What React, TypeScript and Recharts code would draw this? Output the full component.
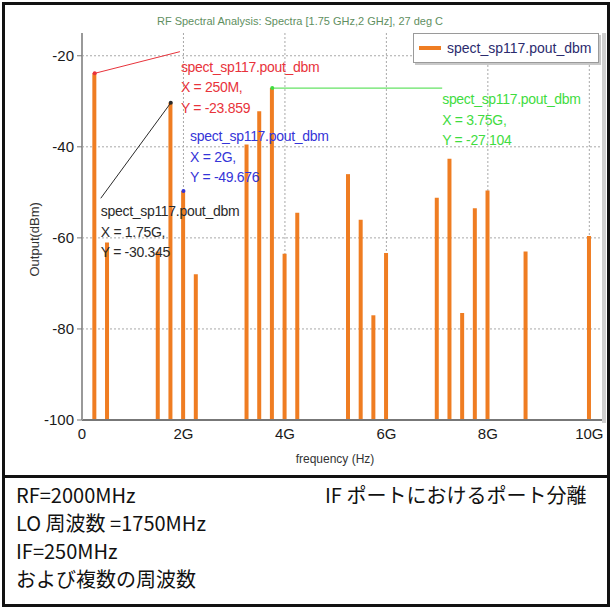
import {
  ComposedChart,
  Bar,
  XAxis,
  YAxis,
  CartesianGrid,
  ReferenceLine,
  ReferenceDot,
  Label,
} from "recharts";

// spectrum lines (GHz / dBm)
const freqGHz = [0.25, 0.5, 1.5, 1.75, 2, 2.25, 3.25, 3.5, 3.75, 4, 4.25, 5.25, 5.5, 5.75, 6, 7, 7.25, 7.5, 7.75, 8, 8.75, 10];
const poutDbm = [-23.859, -61, -63, -30.345, -49.676, -68, -39.5, -32.2, -27.104, -63.5, -54.5, -46, -56, -77, -63.3, -51.2, -42.6, -76.5, -53.5, -49.6, -63, -59.6];
const xTicks = [0, 2, 4, 6, 8, 10];
const yTicks = [-100, -80, -60, -40, -20];
const FLOOR = -100;

const SERIES = "spect_sp117.pout_dbm";
const ORANGE = "#ef7d22";
const FONT = "'Liberation Sans', Arial, sans-serif";
const JP = "'Noto Sans CJK JP', 'Noto Sans', sans-serif";

const rows = freqGHz.map((f, i) => ({ f, span: [FLOOR, poutDbm[i]] }));

// marker callouts: point index, colour, leader end and text anchor (data coords)
const markers = [
  { i: 0, xs: "250M", color: "#e8333b", end: [1.93, -19.1], text: [1.95, -23.5] },
  { i: 8, xs: "3.75G", color: "#3fdc3f", end: [7.1, -27.104], text: [7.1, -30.7] },
  { i: 4, xs: "2G", color: "#3535d8", end: null, text: [2.13, -38.8] },
  { i: 3, xs: "1.75G", color: "#2a2a2a", end: [0.37, -51.3], text: [0.37, -55.2] },
];

function Callout({ viewBox, lines, color }: any) {
  const { x, y } = viewBox;
  return (
    <text x={x} y={y} fill={color} fontSize={14} fontFamily={FONT} letterSpacing={-0.3}>
      {lines.map((t: string, k: number) => (
        <tspan key={k} x={x} dy={k === 0 ? 0 : 20.5}>
          {t}
        </tspan>
      ))}
    </text>
  );
}

function SpectrumChart() {
  return (
    <ComposedChart width={613} height={475} data={rows} margin={{ top: 33, right: 11, bottom: 0, left: 0 }}>
      <CartesianGrid stroke="#a8a8a8" strokeDasharray="2 2" horizontalValues={yTicks} verticalValues={xTicks} />
      <XAxis
        dataKey="f"
        type="number"
        domain={[0, 10.25]}
        ticks={xTicks}
        allowDataOverflow
        height={55}
        tickFormatter={(v) => (v === 0 ? "0" : `${v}G`)}
        tick={{ fill: "#1a1a1a", fontSize: 15, fontFamily: FONT }}
        tickSize={0}
        tickMargin={8}
        axisLine={{ stroke: "#777", strokeWidth: 2 }}
      >
        <Label value="frequency (Hz)" position="insideBottom" offset={12} dx={-7} fill="#333" fontSize={12} fontFamily={FONT} />
      </XAxis>
      <YAxis
        type="number"
        domain={[FLOOR, -15]}
        ticks={yTicks}
        allowDataOverflow
        width={82}
        tick={{ fill: "#1a1a1a", fontSize: 15, fontFamily: FONT }}
        tickSize={5}
        tickMargin={3}
        tickLine={{ stroke: "#777" }}
        axisLine={{ stroke: "#999", strokeWidth: 2 }}
      >
        <Label value="Output(dBm)" angle={-90} position="insideLeft" offset={34} dy={50} fill="#333" fontSize={13} fontFamily={FONT} />
      </YAxis>
      <Bar dataKey="span" fill={ORANGE} barSize={4} isAnimationActive={false} name={SERIES} />
      {markers.map((m) =>
        m.end ? (
          <ReferenceLine
            key={`l${m.i}`}
            segment={[
              { x: freqGHz[m.i], y: poutDbm[m.i] },
              { x: m.end[0], y: m.end[1] },
            ]}
            stroke={m.color}
            strokeWidth={1}
            ifOverflow="visible"
          />
        ) : null
      )}
      {markers.map((m) => (
        <ReferenceDot key={`d${m.i}`} x={freqGHz[m.i]} y={poutDbm[m.i]} r={2} fill={m.color} stroke="none" ifOverflow="visible" />
      ))}
      {markers.map((m) => (
        <ReferenceDot
          key={`t${m.i}`}
          x={m.text[0]}
          y={m.text[1]}
          r={0}
          fill="none"
          stroke="none"
          ifOverflow="visible"
          label={(p: any) => (
            <Callout viewBox={p.viewBox} color={m.color} lines={[SERIES, `X = ${m.xs},`, `Y = ${poutDbm[m.i]}`]} />
          )}
        />
      ))}
    </ComposedChart>
  );
}

export default function App() {
  return (
    <div style={{ position: "absolute", left: 0, top: 0, width: 613, height: 609, background: "#fff" }}>
      <div
        style={{
          position: "absolute",
          left: 2,
          top: 2,
          width: 608,
          height: 605,
          border: "3px solid #111",
          boxSizing: "border-box",
        }}
      />
      <div style={{ position: "absolute", left: 2, top: 475, width: 608, height: 3, background: "#111" }} />
      <div style={{ position: "absolute", left: 0, top: 0 }}>
        <SpectrumChart />
      </div>
      <div
        style={{
          position: "absolute",
          left: 100,
          top: 15,
          width: 400,
          textAlign: "center",
          fontFamily: FONT,
          fontSize: 11,
          color: "#5f8f5f",
        }}
      >
        RF Spectral Analysis: Spectra [1.75 GHz,2 GHz], 27 deg C
      </div>
      {/* shaded right frame of the plot */}
      <div style={{ position: "absolute", left: 602, top: 33, width: 4, height: 390, background: "#cfcfcf" }} />
      {/* legend */}
      <div
        style={{
          position: "absolute",
          left: 413,
          top: 33,
          width: 186,
          height: 30,
          background: "#fff",
          border: "1px solid #9a9a9a",
          boxShadow: "2px 2px 0 #c8c8c8",
          boxSizing: "border-box",
          display: "flex",
          alignItems: "center",
          fontFamily: FONT,
          fontSize: 14,
          color: "#2b2b6e",
        }}
      >
        <span style={{ display: "inline-block", width: 22, height: 4, background: ORANGE, margin: "0 6px 0 5px" }} />
        {SERIES}
      </div>
      <div style={{ position: "absolute", left: 16, top: 481, fontFamily: JP, fontSize: 20, lineHeight: "28px", color: "#111" }}>
        <div>RF=2000MHz</div>
        <div>LO 周波数 =1750MHz</div>
        <div>IF=250MHz</div>
        <div>および複数の周波数</div>
      </div>
      <div style={{ position: "absolute", left: 325, top: 481, fontFamily: JP, fontSize: 20, lineHeight: "28px", color: "#111" }}>
        IF ポートにおけるポート分離
      </div>
    </div>
  );
}
